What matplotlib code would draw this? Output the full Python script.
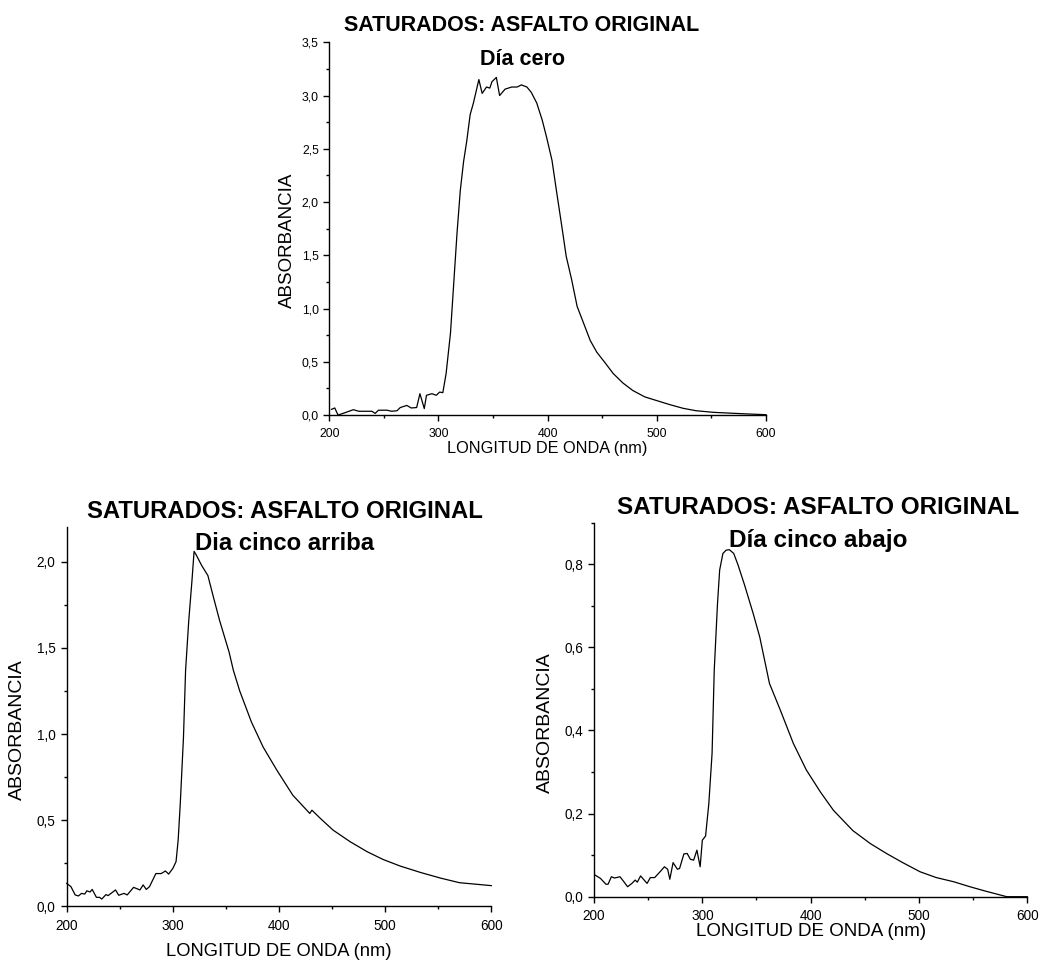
import matplotlib
matplotlib.use("Agg")
import matplotlib.pyplot as plt
from matplotlib.ticker import MultipleLocator, FuncFormatter

plt.rcParams['font.family'] = ['Liberation Sans', 'DejaVu Sans']

# ---- spectra: saturates fraction, original asphalt ----
wl_dia_cero = [202, 205, 208, 214, 222, 227, 239, 242, 245, 253, 257, 262, 265, 271,
               275, 280, 283, 287, 289, 294, 298, 301, 304, 307, 311, 314, 317, 320,
               323, 326, 329, 332, 337, 340, 344, 347, 349, 353, 356, 361, 367, 372,
               376, 381, 385, 390, 395, 399, 404, 408, 413, 417, 422, 427, 433, 439,
               445, 453, 460, 469, 478, 489, 500, 512, 524, 536, 552, 570, 585, 600]
abs_dia_cero = [0.053, 0.066, 0.0, 0.02, 0.05, 0.035, 0.035, 0.015, 0.045, 0.045, 0.035,
                0.04, 0.07, 0.09, 0.066, 0.07, 0.2, 0.06, 0.185, 0.2, 0.185, 0.215, 0.21,
                0.39, 0.77, 1.24, 1.71, 2.11, 2.38, 2.58, 2.82, 2.93, 3.15, 3.02, 3.08,
                3.07, 3.13, 3.17, 3.0, 3.06, 3.08, 3.08, 3.10, 3.08, 3.03, 2.93, 2.77,
                2.61, 2.39, 2.11, 1.77, 1.49, 1.27, 1.02, 0.86, 0.70, 0.59, 0.485, 0.39,
                0.30, 0.23, 0.17, 0.135, 0.097, 0.063, 0.04, 0.025, 0.016, 0.009, 0.003]

wl_cinco_arriba = [200, 204, 208, 211, 214, 217, 219, 222, 224, 228, 231, 233, 237, 239,
                   246, 249, 254, 257, 263, 269, 272, 275, 278, 284, 289, 293, 296, 300,
                   303, 305, 307, 310, 312, 315, 318, 320, 322, 327, 333, 338, 344, 353,
                   357, 363, 374, 385, 398, 413, 429, 431, 439, 451, 467, 483, 498, 514,
                   533, 552, 570, 600]
abs_cinco_arriba = [0.133, 0.114, 0.066, 0.06, 0.075, 0.071, 0.09, 0.083, 0.098, 0.052,
                    0.052, 0.042, 0.068, 0.062, 0.095, 0.064, 0.075, 0.066, 0.11, 0.095,
                    0.124, 0.098, 0.114, 0.19, 0.19, 0.205, 0.187, 0.22, 0.259, 0.384,
                    0.597, 0.98, 1.37, 1.66, 1.89, 2.06, 2.04, 1.98, 1.92, 1.80, 1.66,
                    1.475, 1.37, 1.25, 1.07, 0.925, 0.79, 0.645, 0.539, 0.558, 0.51,
                    0.442, 0.375, 0.317, 0.272, 0.234, 0.197, 0.164, 0.137, 0.12]

wl_cinco_abajo = [201, 206, 211, 213, 216, 219, 224, 227, 231, 235, 238, 240, 243, 249,
                  252, 256, 261, 265, 268, 270, 273, 277, 279, 283, 286, 289, 292, 295,
                  298, 300, 303, 306, 309, 311, 314, 316, 319, 322, 325, 329, 333, 339,
                  347, 353, 362, 372, 384, 396, 409, 421, 432, 439, 455, 470, 485, 501,
                  516, 532, 547, 562, 581, 590, 600]
abs_cinco_abajo = [0.052, 0.044, 0.030, 0.030, 0.048, 0.045, 0.048, 0.038, 0.024, 0.032,
                   0.040, 0.035, 0.050, 0.032, 0.046, 0.046, 0.060, 0.072, 0.066, 0.042,
                   0.082, 0.066, 0.068, 0.103, 0.104, 0.090, 0.088, 0.112, 0.072, 0.136,
                   0.146, 0.224, 0.345, 0.545, 0.705, 0.786, 0.826, 0.834, 0.835, 0.826,
                   0.798, 0.75, 0.681, 0.625, 0.513, 0.449, 0.369, 0.305, 0.252, 0.208,
                   0.178, 0.159, 0.128, 0.104, 0.082, 0.060, 0.046, 0.036, 0.024, 0.013,
                   0.0, 0.0, 0.0]

TITLE = "SATURADOS: ASFALTO ORIGINAL"
XLABEL = "LONGITUD DE ONDA (nm)"
YLABEL = "ABSORBANCIA"

W, H = 1040, 964
fig = plt.figure(figsize=(W / 100, H / 100), dpi=100)


def box(left, top, right, bottom):
    return [left / W, 1 - bottom / H, (right - left) / W, (bottom - top) / H]


def ftext(x, y, s, **kw):
    fig.text(x / W, 1 - y / H, s, ha="center", va="center", **kw)


comma = FuncFormatter(lambda v, p: f"{v:.1f}".replace(".", ","))


def panel(rect, wl, ab, ymax, ymaj, ymin, tick_fs, xpad, ypad):
    ax = fig.add_axes(rect)
    ax.plot(wl, ab, color="black", lw=0.9, clip_on=False)
    ax.set_xlim(200, 600)
    ax.set_ylim(0, ymax)
    for s in ("top", "right"):
        ax.spines[s].set_visible(False)
    for s in ("left", "bottom"):
        ax.spines[s].set_linewidth(1.0)
    ax.xaxis.set_major_locator(MultipleLocator(100))
    ax.xaxis.set_minor_locator(MultipleLocator(50))
    ax.yaxis.set_major_locator(MultipleLocator(ymaj))
    ax.yaxis.set_minor_locator(MultipleLocator(ymin))
    ax.yaxis.set_major_formatter(comma)
    ax.tick_params(which="major", direction="out", length=4, width=1.0,
                   labelsize=tick_fs)
    ax.tick_params(which="minor", direction="out", length=2.5, width=1.0)
    ax.tick_params(axis="x", pad=xpad)
    ax.tick_params(axis="y", pad=ypad)
    return ax


# top: day zero
panel(box(329.3, 42.3, 766, 415), wl_dia_cero, abs_dia_cero,
      3.5, 0.5, 0.25, 8.8, 5.5, 3.5)
ftext(522, 25.5, TITLE, fontsize=15.5, fontweight="bold")
ftext(522, 59.5, "Día cero", fontsize=15.5, fontweight="bold")
ftext(547, 449, XLABEL, fontsize=11.7)
ftext(287, 240, YLABEL, fontsize=13.5, rotation=90)

# bottom left: day five, top sample
panel(box(66.7, 527.3, 491.3, 906.3), wl_cinco_arriba, abs_cinco_arriba,
      2.2, 0.5, 0.25, 9.8, 5.5, 4.0)
ftext(284.5, 511, TITLE, fontsize=17.2, fontweight="bold")
ftext(284.5, 544, "Dia cinco arriba", fontsize=17.2, fontweight="bold")
ftext(279, 951, XLABEL, fontsize=13.2)
ftext(17, 730, YLABEL, fontsize=14, rotation=90)

# bottom right: day five, bottom sample
panel(box(594, 522.7, 1027.3, 896.7), wl_cinco_abajo, abs_cinco_abajo,
      0.9, 0.2, 0.1, 9.8, 5.0, 4.0)
ftext(818, 507, TITLE, fontsize=17.5, fontweight="bold")
ftext(818, 540.5, "Día cinco abajo", fontsize=17.5, fontweight="bold")
ftext(811, 931, XLABEL, fontsize=13.5)
ftext(545, 723, YLABEL, fontsize=14, rotation=90)

fig.savefig("out.png", dpi=100)
